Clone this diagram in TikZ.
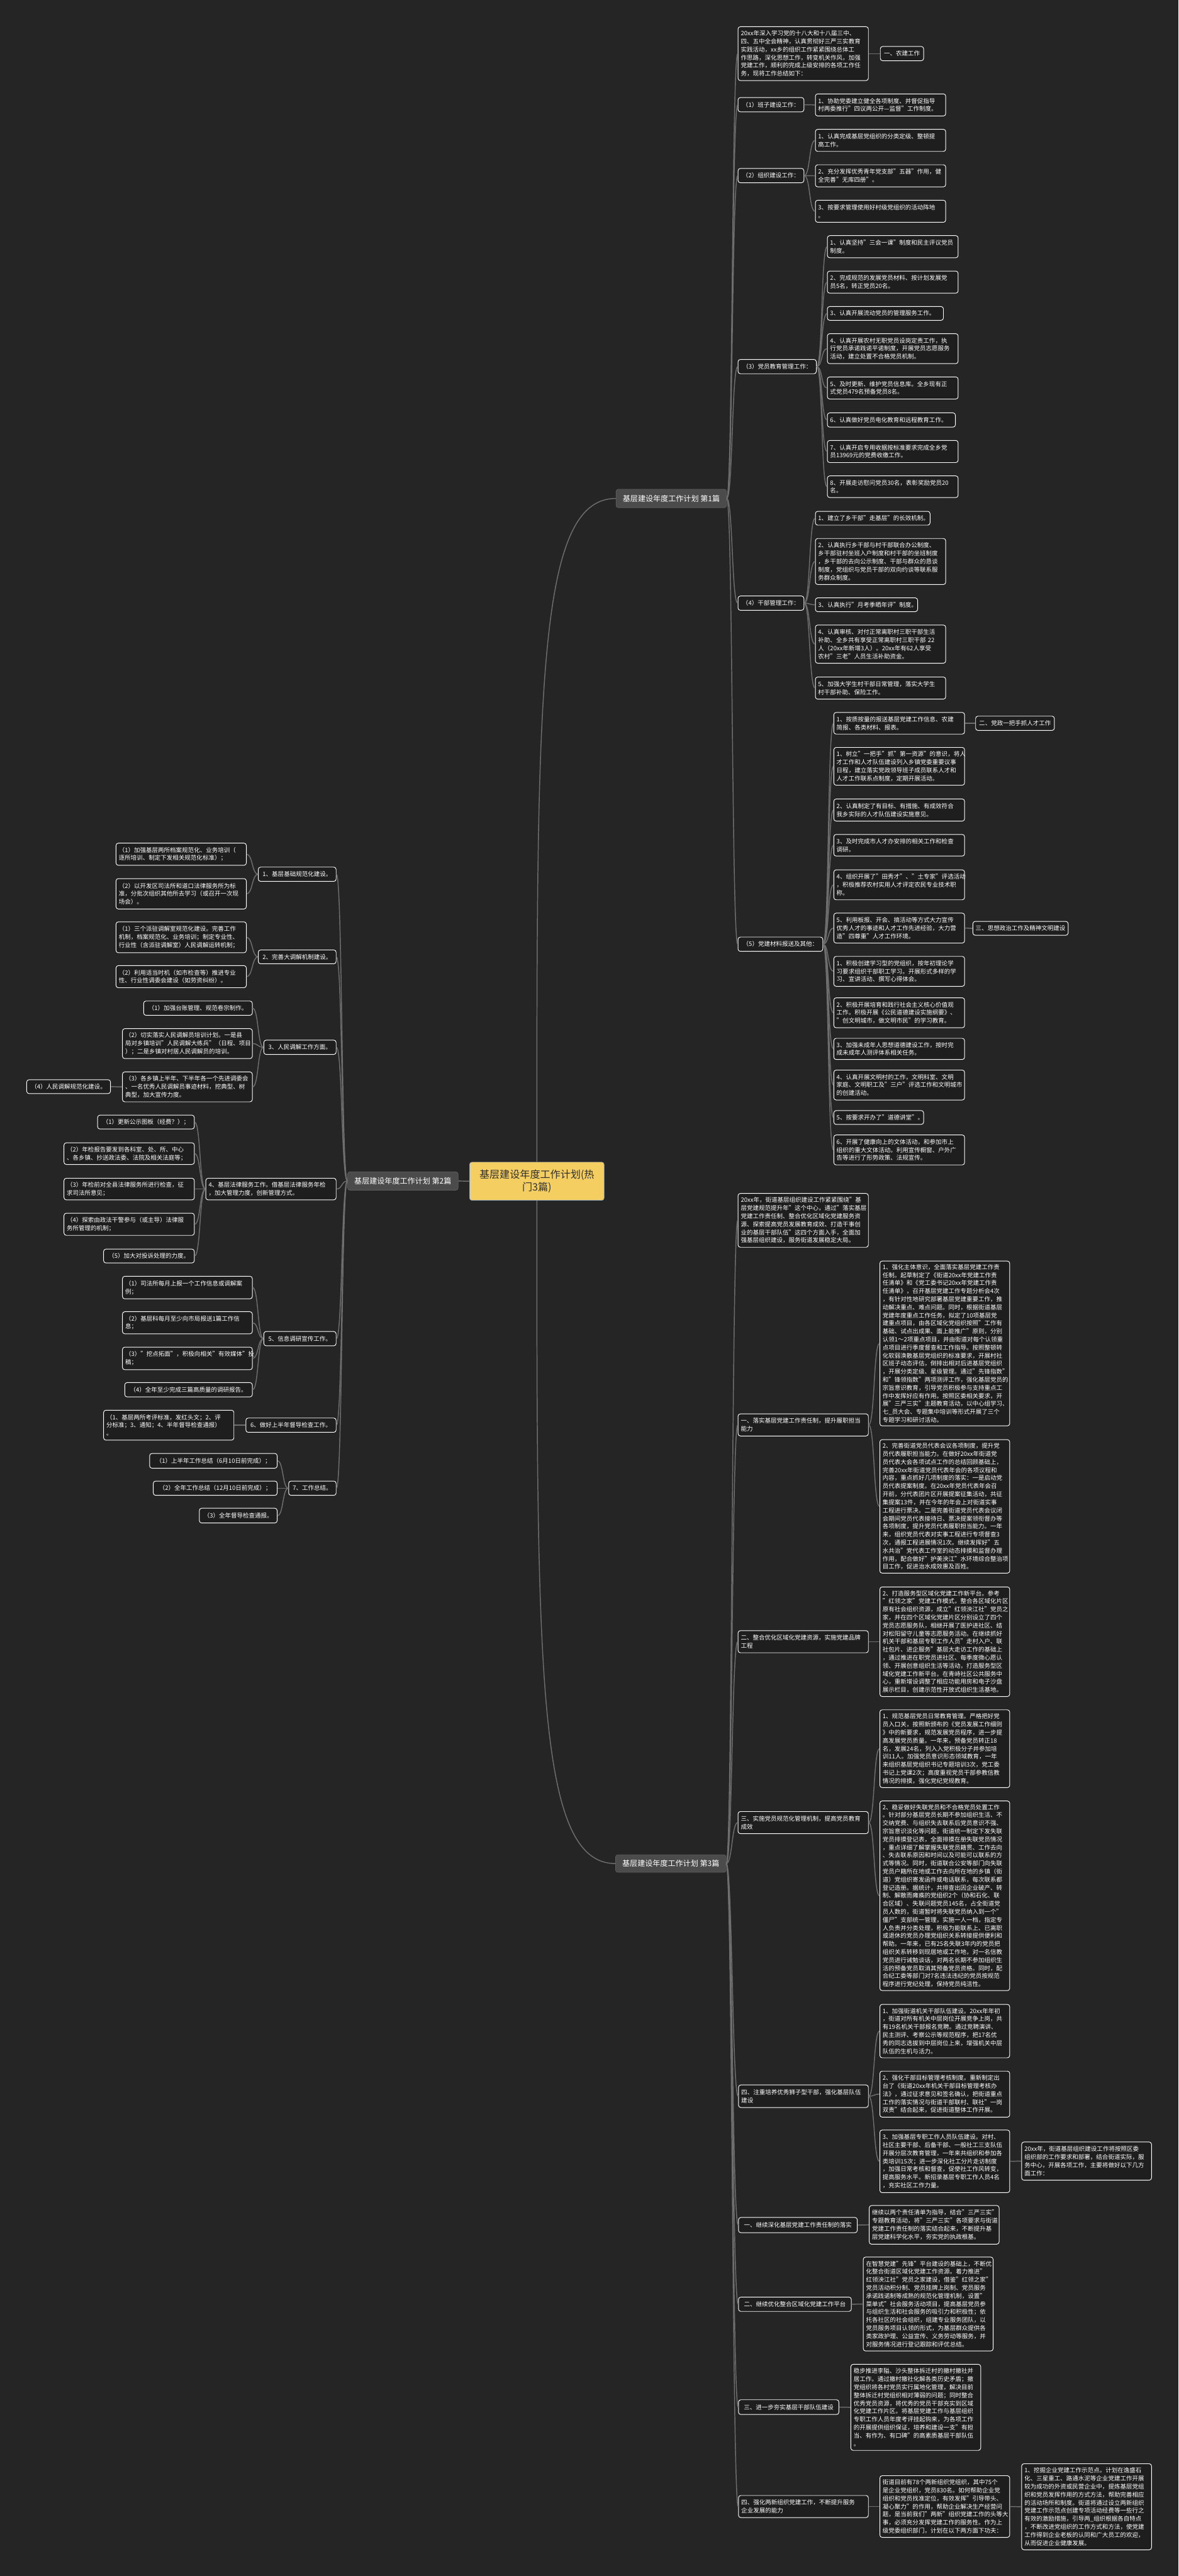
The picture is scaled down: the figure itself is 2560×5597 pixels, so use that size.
\documentclass[tikz,border=0pt]{standalone}
\usepackage{fontspec}
\setmainfont{Noto Sans CJK SC}
\definecolor{bg}{HTML}{252525}
\definecolor{nfill}{HTML}{1E1E1E}
\definecolor{lgray}{HTML}{6E6E6E}
\definecolor{bfill}{HTML}{4B4B4B}
\definecolor{bline}{HTML}{5E5E5E}
\definecolor{rootfill}{HTML}{F5CE62}
\definecolor{roottext}{HTML}{303030}
\definecolor{rootline}{HTML}{9AA7B5}
\tikzset{
 box/.style={draw=white, line width=1.3pt, fill=nfill, rounded corners=5pt, text=white,
   font=\fontsize{13}{17.5}\selectfont, align=left, inner xsep=6pt, inner ysep=5pt, anchor=center},
 sbox/.style={box, align=center},
 branch/.style={draw=bline, line width=1pt, fill=bfill, rounded corners=5pt, text=white,
   font=\fontsize{16.5}{20}\selectfont, inner sep=4pt, anchor=center},
 rootbox/.style={draw=rootline, line width=1pt, fill=rootfill, rounded corners=5pt, text=roottext,
   font=\fontsize{22}{28}\selectfont, align=center, anchor=center},
 conn/.style={draw=lgray, line width=2pt},
}
\newcommand\ndm[6]{%
 \pgfmathsetmacro\ndw{#4-#2}\pgfmathsetmacro\ndh{#5-#3}\pgfmathsetmacro\ndt{#4-#2-12}%
 \pgfmathsetmacro\ndx{(#2+#4)/2}\pgfmathsetmacro\ndy{(#3+#5)/2}%
 \node[box,minimum width=\ndw pt,minimum height=\ndh pt,text width=\ndt pt] (#1) at (\ndx,\ndy) {#6};}
\newcommand\nsm[6]{%
 \pgfmathsetmacro\ndw{#4-#2}\pgfmathsetmacro\ndh{#5-#3}%
 \pgfmathsetmacro\ndx{(#2+#4)/2}\pgfmathsetmacro\ndy{(#3+#5)/2}%
 \node[sbox,minimum width=\ndw pt,minimum height=\ndh pt] (#1) at (\ndx,\ndy) {#6};}
\newcommand\lkR[2]{\foreach \kk in {#2}{\draw[conn] (#1.east) .. controls +(13,0) and +(-13,0) .. (\kk.west);}}
\newcommand\lkL[2]{\foreach \kk in {#2}{\draw[conn] (#1.west) .. controls +(-13,0) and +(13,0) .. (\kk.east);}}
\begin{document}
\begin{tikzpicture}[x=1pt,y=-1pt]
\fill[bg] (0,0) rectangle (2560,5597);
\useasboundingbox (0,0) rectangle (2560,5597);

% root and branches
\node[rootbox,minimum width=292pt,minimum height=83pt,text width=276pt] (rt) at (1166,2566.5) {基层建设年度工作计划(热\\门3篇)};
\node[branch,minimum width=240pt,minimum height=40pt] (b1) at (1458,1083) {基层建设年度工作计划 第1篇};
\node[branch,minimum width=240pt,minimum height=40pt] (b2) at (875,2566) {基层建设年度工作计划 第2篇};
\node[branch,minimum width=240pt,minimum height=38pt] (b3) at (1457,4049) {基层建设年度工作计划 第3篇};

% ---------- part 1 ----------
\ndm{a0}{1603}{58}{1886}{175}{20xx年深入学习党的十八大和十八届三中、\\四、五中全会精神，认真贯彻好三严三实教育\\实践活动，xx乡的组织工作紧紧围绕总体工\\作思路，深化思想工作，转变机关作风，加强\\党建工作，顺利的完成上级安排的各项工作任\\务，现将工作总结如下：}
\nsm{a0x}{1912}{101}{2006}{132}{一、农建工作}
\nsm{a1}{1603}{212}{1746}{243}{（1）班子建设工作：}
\ndm{a11}{1771}{204}{2054}{252}{1、协助党委建立健全各项制度、并督促指导\\村两委推行"四议两公开—监督"工作制度。}
\nsm{a2}{1603}{366}{1746}{397}{（2）组织建设工作：}
\ndm{a21}{1771}{281}{2054}{329}{1、认真完成基层党组织的分类定级、整顿提\\高工作。}
\ndm{a22}{1771}{358}{2054}{406}{2、充分发挥优秀青年党支部"五器"作用，健\\全完善"无库四册"。}
\ndm{a23}{1771}{435}{2054}{483}{3、按要求管理使用好村级党组织的活动阵地\\。}
\nsm{a3}{1603}{781}{1773}{812}{（3）党员教育管理工作：}
\ndm{a31}{1797}{512}{2081}{560}{1、认真坚持"三会一课"制度和民主评议党员\\制度。}
\ndm{a32}{1797}{589}{2081}{637}{2、完成规范的发展党员材料、按计划发展党\\员5名，转正党员20名。}
\ndm{a33}{1797}{666}{2049}{696}{3、认真开展流动党员的管理服务工作。}
\ndm{a34}{1797}{725}{2081}{790}{4、认真开展农村无职党员设岗定责工作，执\\行党员承诺践诺平诺制度，开展党员志愿服务\\活动，建立处置不合格党员机制。}
\ndm{a35}{1797}{819}{2081}{867}{5、及时更新、维护党员信息库。全乡现有正\\式党员479名预备党员8名。}
\ndm{a36}{1797}{897}{2075}{928}{6、认真做好党员电化教育和远程教育工作。}
\ndm{a37}{1797}{957}{2081}{1005}{7、认真开启专用收据按标准要求完成全乡党\\员13969元的党费收缴工作。}
\ndm{a38}{1797}{1034}{2081}{1081}{8、开展走访慰问党员30名，表彰奖励党员20\\名。}
\nsm{a4}{1603}{1295}{1746}{1326}{（4）干部管理工作：}
\ndm{a41}{1771}{1111}{2020}{1141}{1、建立了乡干部"走基层"的长效机制。}
\ndm{a42}{1771}{1170}{2054}{1270}{2、认真执行乡干部与村干部联合办公制度、\\乡干部驻村坐班入户制度和村干部的坐班制度\\，乡干部的去向公示制度、干部与群众的恳谈\\制度，党组织与党员干部的双向约谈等联系服\\务群众制度。}
\ndm{a43}{1771}{1299}{1993}{1329}{3、认真执行"月考季晒年评"制度。}
\ndm{a44}{1771}{1358}{2054}{1441}{4、认真审核、对付正常离职村三职干部生活\\补助、全乡共有享受正常离职村三职干部 22\\人（20xx年新增3人）。20xx年有62人享受\\农村"三老"人员生活补助资金。}
\ndm{a45}{1771}{1471}{2054}{1519}{5、加强大学生村干部日常管理，落实大学生\\村干部补助、保险工作。}
\nsm{a5}{1603}{2036}{1787}{2067}{（5）党建材料报送及其他：}
\ndm{a51}{1811}{1548}{2095}{1595}{1、按质按量的报送基层党建工作信息、农建\\简报、各类材料、报表。}
\nsm{a51x}{2119}{1556}{2290}{1587}{二、党政一把手抓人才工作}
\ndm{a52}{1811}{1624}{2095}{1706}{1、树立"一把手"抓"第一资源"的意识，将人\\才工作和人才队伍建设列入乡镇党委重要议事\\日程，建立落实党政领导班子成员联系人才和\\人才工作联系点制度，定期开展活动。}
\ndm{a53}{1811}{1736}{2095}{1784}{2、认真制定了有目标、有措施、有成效符合\\我乡实际的人才队伍建设实施意见。}
\ndm{a54}{1811}{1813}{2095}{1860}{3、及时完成市人才办安排的相关工作和检查\\调研。}
\ndm{a55}{1811}{1890}{2095}{1955}{4、组织开展了"田秀才"、"土专家"评选活动\\，积极推荐农村实用人才评定农民专业技术职\\称。}
\ndm{a56}{1811}{1984}{2095}{2049}{5、利用板报、开会、搞活动等方式大力宣传\\优秀人才的事迹和人才工作先进经验，大力营\\造"四尊重"人才工作环境。}
\nsm{a56x}{2117}{2002}{2316}{2032}{三、思想政治工作及精神文明建设}
\ndm{a57}{1811}{2078}{2095}{2143}{1、积极创建学习型的党组织，按年初理论学\\习要求组织干部职工学习。开展形式多样的学\\习、宣讲活动、撰写心得体会。}
\ndm{a58}{1811}{2168}{2095}{2233}{2、积极开展培育和践行社会主义核心价值观\\工作。积极开展《公民道德建设实施纲要》、\\"创文明城市，做文明市民"的学习教育。}
\ndm{a59}{1811}{2256}{2095}{2302}{3、加强未成年人思想道德建设工作，按时完\\成未成年人测评体系相关任务。}
\ndm{a5a}{1811}{2325}{2095}{2390}{4、认真开展文明村的工作，文明科室、文明\\家庭、文明职工及"三户"评选工作和文明城市\\的创建活动。}
\ndm{a5b}{1811}{2413}{2006}{2443}{5、按要求开办了"道德讲堂"。}
\ndm{a5c}{1811}{2466}{2095}{2531}{6、开展了健康向上的文体活动，和参加市上\\组织的重大文体活动。利用宣传橱窗、户外广\\告等进行了形势政策、法规宣传。}

% ---------- part 2 ----------
\nsm{c1}{561}{1884}{730}{1915}{1、基层基础规范化建设。}
\ndm{c11}{252}{1832}{535}{1880}{（1）加强基层两所档案规范化、业务培训（\\逐所培训、制定下发相关规范化标准）；}
\ndm{c12}{252}{1909}{535}{1975}{（2）以开发区司法所和道口法律服务所为标\\准，分批次组织其他所去学习（或召开一次现\\场会）。}
\nsm{c2}{561}{2064}{730}{2094}{2、完善大调解机制建设。}
\ndm{c21}{252}{2003}{535}{2070}{（1）三个派驻调解室规范化建设。完善工作\\机制，档案规范化、业务培训；制定专业性、\\行业性（含派驻调解室）人民调解运转机制；}
\ndm{c22}{252}{2098}{535}{2146}{（2）利用适当时机（如市检查等）推进专业\\性、行业性调委会建设（如劳资纠纷）。}
\nsm{c3}{573}{2260}{730}{2291}{3、人民调解工作方面。}
\nsm{c31}{312}{2175}{548}{2206}{（1）加强台账管理、规范卷宗制作。}
\ndm{c32}{266}{2235}{548}{2300}{（2）切实落实人民调解员培训计划。一是县\\局对乡镇培训"人民调解大练兵"（日程、项目\\）；二是乡镇对村居人民调解员的培训。}
\ndm{c33}{266}{2329}{548}{2394}{（3）各乡镇上半年、下半年各一个先进调委会\\、一名优秀人民调解员事迹材料，挖典型、树\\典型，加大宣传力度。}
\nsm{c33x}{58}{2346}{240}{2376}{（4）人民调解规范化建设。}
\ndm{c4}{447}{2560}{730}{2607}{4、基层法律服务工作。借基层法律服务年检\\，加大管理力度，创新管理方式。}
\nsm{c41}{212}{2423}{422}{2453}{（1）更新公示图板（经费？）；}
\ndm{c42}{139}{2483}{422}{2530}{（2）年检报告要发到各科室、处、所、中心\\、各乡镇、抄送政法委、法院及相关法庭等；}
\ndm{c43}{139}{2560}{422}{2607}{（3）年检前对全县法律服务所进行检查，征\\求司法所意见；}
\ndm{c44}{139}{2636}{422}{2684}{（4）探索由政法干警参与（或主导）法律服\\务所管理的机制；}
\nsm{c45}{225}{2714}{422}{2744}{（5）加大对投诉处理的力度。}
\nsm{c5}{573}{2893}{730}{2924}{5、信息调研宣传工作。}
\ndm{c51}{266}{2773}{548}{2822}{（1）司法所每月上报一个工作信息或调解案\\例；}
\ndm{c52}{266}{2850}{548}{2898}{（2）基层科每月至少向市局报送1篇工作信\\息；}
\ndm{c53}{266}{2927}{548}{2976}{（3）"挖点拓面"，积极向相关"有效媒体"投\\稿；}
\nsm{c54}{271}{3004}{548}{3035}{（4）全年至少完成三篇高质量的调研报告。}
\nsm{c6}{534}{3081}{730}{3112}{6、做好上半年督导检查工作。}
\ndm{c61}{225}{3064}{508}{3129}{（1、基层两所考评标准，发红头文；2、评\\分标准；3、通知；4、半年督导检查通报）\\。}
\nsm{c7}{627}{3218}{730}{3249}{7、工作总结。}
\nsm{c71}{325}{3158}{602}{3190}{（1）上半年工作总结（6月10日前完成）；}
\nsm{c72}{333}{3218}{602}{3249}{（2）全年工作总结（12月10日前完成）；}
\nsm{c73}{433}{3277}{602}{3309}{（3）全年督导检查通报。}

% ---------- part 3 ----------
\ndm{d0}{1603}{2593}{1886}{2710}{20xx年，街道基层组织建设工作紧紧围绕"基\\层党建规范提升年"这个中心，通过"落实基层\\党建工作责任制、整合优化区域化党建服务资\\源、探索提高党员发展教育成效、打造干事创\\业的基层干部队伍"这四个方面入手，全面加\\强基层组织建设，服务街道发展稳定大局。}
\ndm{d1}{1603}{3072}{1886}{3120}{一、落实基层党建工作责任制，提升履职担当\\能力}
\ndm{d11}{1911}{2740}{2193}{3098}{1、强化主体意识，全面落实基层党建工作责\\任制。起草制定了《街道20xx年党建工作责\\任清单》和《党工委书记20xx年党建工作责\\任清单》，召开基层党建工作专题分析会4次\\，有针对性地研究部署基层党建重要工作，推\\动解决重点、难点问题。同时，根据街道基层\\党建年度重点工作任务，拟定了10项基层党\\建重点项目，由各区域化党组织按照"工作有\\基础、试点出成果、面上能推广"原则，分别\\认领1～2项重点项目，并由街道对每个认领重\\点项目进行季度督查和工作指导。按照整顿转\\化软弱涣散基层党组织的标准要求，开展村社\\区班子动态评估，倒排出相对后进基层党组织\\，开展分类定级、星级管理。通过"先锋指数"\\和"锋领指数"两项测评工作，强化基层党员的\\宗旨意识教育，引导党员积极参与支持重点工\\作中发挥好应有作用。按照区委相关要求，开\\展"三严三实"主题教育活动，以中心组学习、\\七\_员大会、专题集中培训等形式开展了三个\\专题学习和研讨活动。}
\ndm{d12}{1911}{3128}{2193}{3418}{2、完善街道党员代表会议各项制度，提升党\\员代表履职担当能力。在做好20xx年街道党\\员代表大会各项试点工作的总结回顾基础上，\\完善20xx年街道党员代表年会的各项议程和\\内容，重点抓好几项制度的落实：一是启动党\\员代表提案制度。在20xx年党员代表年会召\\开前，分代表团片区开展提案征集活动，共征\\集提案13件，并在今年的年会上对街道实事\\工程进行票决。二是完善街道党员代表会议闭\\会期间党员代表接待日、票决提案领衔督办等\\各项制度，提升党员代表履职担当能力。一年\\来，组织党员代表对实事工程进行专项督查3\\次，通报工程进展情况1次。继续发挥好"五\\水共治"党代表工作室的动态排摸和监督办理\\作用，配合做好"护美泱江"水环境综合整治项\\目工作，促进治水成效惠及百姓。}
\ndm{d2}{1603}{3543}{1886}{3591}{二、整合优化区域化党建资源，实施党建品牌\\工程}
\ndm{d21}{1911}{3448}{2193}{3686}{2、打造服务型区域化党建工作新平台。参考\\"红领之家"党建工作模式，整合各区域化片区\\原有社会组织资源，成立"红领泱江社"党员之\\家，并在四个区域化党建片区分别设立了四个\\党员志愿服务队，相继开展了医护进社区、结\\对松阳留守儿童等志愿服务活动。在继续抓好\\机关干部和基层专职工作人员"走村入户、联\\社包片、进企服务"基层大走访工作的基础上\\，通过推进在职党员进社区、每季度微心愿认\\领、开展创意组织生活等活动，打造服务型区\\域化党建工作新平台。在青峙社区公共服务中\\心，重新增设调整了相应功能用房和电子沙盘\\展示栏目，创建示范性开放式组织生活基地。}
\ndm{d3}{1603}{3936}{1886}{3984}{三、实施党员规范化管理机制，提高党员教育\\成效}
\ndm{d31}{1911}{3715}{2193}{3884}{1、规范基层党员日常教育管理。严格把好党\\员入口关，按照新颁布的《党员发展工作细则\\》中的新要求，规范发展党员程序，进一步提\\高发展党员质量。一年来，预备党员转正18\\名，发展24名，列入入党积极分子并参加培\\训11人。加强党员意识形态领域教育，一年\\来组织基层党组织书记专题培训3次，党工委\\书记上党课2次；高度重视党员干部参教信教\\情况的排摸，强化党纪党规教育。}
\ndm{d32}{1911}{3913}{2193}{4325}{2、稳妥做好失联党员和不合格党员处置工作\\。针对部分基层党员长期不参加组织生活、不\\交纳党费、与组织失去联系后党员意识不强、\\宗旨意识淡化等问题，街道统一制定下发失联\\党员排摸登记表，全面排摸在册失联党员情况\\，重点详细了解掌握失联党员籍贯、工作去向\\、失去联系原因和时间以及可能可以联系的方\\式等情况。同时，街道联合公安等部门向失联\\党员户籍所在地或工作去向所在地的乡镇（街\\道）党组织寄发函件或电话联系，每次联系都\\登记造册。据统计，共排查出因企业破产、转\\制、解散而瘫痪的党组织2个（协和石化、联\\合区域）、失联问题党员145名，占全街道党\\员人数的，街道暂时将失联党员纳入到一个"\\僵尸"支部统一管理，实施一人一档，指定专\\人负责并分类处理，积极为能联系上、已离职\\或退休的党员办理党组织关系转接提供便利和\\帮助。一年来，已有25名失联3年内的党员把\\组织关系转移到现居地或工作地，对一名信教\\党员进行诫勉谈话，对两名长期不参加组织生\\活的预备党员取消其预备党员资格。同时，配\\合纪工委等部门对7名违法违纪的党员按规范\\程序进行党纪处理，保持党员纯洁性。}
\ndm{d4}{1604}{4530}{1886}{4579}{四、注重培养优秀狮子型干部，强化基层队伍\\建设}
\ndm{d41}{1911}{4355}{2193}{4471}{1、加强街道机关干部队伍建设。20xx年年初\\，街道对所有机关中层岗位开展竞争上岗，共\\有19名机关干部报名竞聘。通过竞聘演讲、\\民主测评、考察公示等规范程序，把17名优\\秀的同志选拔到中层岗位上来，增强机关中层\\队伍的生机与活力。}
\ndm{d42}{1911}{4500}{2193}{4600}{2、强化干部目标管理考核制度。重新制定出\\台了《街道20xx年机关干部目标管理考核办\\法》，通过征求意见和签名确认，把街道重点\\工作的落实情况与街道干部联村、联社"一岗\\双责"结合起来，促进街道整体工作开展。}
\ndm{d43}{1911}{4628}{2193}{4764}{3、加强基层专职工作人员队伍建设。对村、\\社区主要干部、后备干部、一般社工三支队伍\\开展分层次教育管理，一年来共组织和参加各\\类培训15次；进一步深化社工分片走访制度\\，加强日常考核和督查，促使社工作风转变，\\提高服务水平。新招录基层专职工作人员4名\\，充实社区工作力量。}
\ndm{d43x}{2219}{4654}{2501}{4737}{20xx年，街道基层组织建设工作将按照区委\\组织部的工作要求和部署，结合街道实际，服\\务中心，开展各项工作，主要将做好以下几方\\面工作：}
\nsm{d5}{1604}{4818}{1862}{4851}{一、继续深化基层党建工作责任制的落实}
\ndm{d51}{1888}{4792}{2170}{4876}{继续以两个责任清单为指导，结合"三严三实"\\专题教育活动，将"三严三实"各项要求与街道\\党建工作责任制的落实结合起来，不断提升基\\层党建科学化水平，夯实党的执政根基。}
\nsm{d6}{1604}{4991}{1849}{5022}{二、继续优化整合区域化党建工作平台}
\ndm{d61}{1875}{4904}{2157}{5108}{在智慧党建"先锋"平台建设的基础上，不断优\\化整合街道区域化党建工作资源。着力推进"\\红领泱江社"党员之家建设，借鉴"红领之家"\\党员活动积分制、党员挂牌上岗制、党员服务\\承诺践诺制等成熟的规范化管理机制，设置"\\菜单式"社会服务活动项目，提高基层党员参\\与组织生活和社会服务的吸引力和积极性；依\\托各社区的社会组织，组建专业服务团队，以\\党员服务项目认领的形式，为基层群众提供各\\类家政护理、公益宣传、义务劳动等服务，并\\对服务情况进行登记跟踪和评优总结。}
\nsm{d7}{1604}{5214}{1822}{5246}{三、进一步夯实基层干部队伍建设}
\ndm{d71}{1848}{5137}{2130}{5324}{稳步推进李隘、沙头整体拆迁村的撤村撤社并\\居工作。通过撤村撤社化解各类历史矛盾；撤\\党组织将各村党员实行属地化管理，解决目前\\整体拆迁村党组织相对薄弱的问题；同时整合\\优秀党员资源，将优秀的党员干部充实到区域\\化党建工作片区。将基层党建工作与基层组织\\专职工作人员年度考评挂起钩来，为各项工作\\的开展提供组织保证，培养和建设一支"有担\\当、有作为、有口碑"的高素质基层干部队伍\\。}
\ndm{d8}{1604}{5422}{1886}{5470}{四、强化两新组织党建工作，不断提升服务\\企业发展的能力}
\ndm{d81}{1911}{5379}{2193}{5513}{街道目前有78个两新组织党组织，其中75个\\是企业党组织，党员830名。如何帮助企业党\\组织和党员找准定位，有效发挥"引导带头、\\凝心聚力"的作用，帮助企业解决生产经营问\\题，是当前我们"两新"组织党建工作的头等大\\事，必须充分发挥党建工作的服务性。作为上\\级党委组织部门，计划在以下两方面下功夫：}
\ndm{d81x}{2219}{5353}{2501}{5540}{1、挖掘企业党建工作示范点。计划在逸盛石\\化、三星重工、路通水泥等企业党建工作开展\\较为成功的外资或民营企业中，提炼基层党组\\织和党员发挥作用的方式方法，帮助完善相应\\的活动场所和制度。街道将通过设立两新组织\\党建工作示范点创建专项活动经费等一些行之\\有效的激励措施，引导两\_组织根据各自特点\\，不断改进党组织的工作方式和方法，使党建\\工作得到企业老板的认同和广大员工的欢迎，\\从而促进企业健康发展。}

% ---------- connectors ----------
\draw[conn] (rt.north) .. controls (1166,1500) and (1166,1083) .. (b1.west);
\draw[conn] (rt.south) .. controls (1166,3630) and (1166,4049) .. (b3.west);
\draw[conn] (rt.west) -- (b2.east);

\lkR{b1}{a0,a1,a2,a3,a4,a5}
\lkR{a0}{a0x}
\lkR{a1}{a11}
\lkR{a2}{a21,a22,a23}
\lkR{a3}{a31,a32,a33,a34,a35,a36,a37,a38}
\lkR{a4}{a41,a42,a43,a44,a45}
\lkR{a5}{a51,a52,a53,a54,a55,a56,a57,a58,a59,a5a,a5b,a5c}
\lkR{a51}{a51x}
\lkR{a56}{a56x}

\lkL{b2}{c1,c2,c3,c4,c5,c6,c7}
\lkL{c1}{c11,c12}
\lkL{c2}{c21,c22}
\lkL{c3}{c31,c32,c33}
\lkL{c33}{c33x}
\lkL{c4}{c41,c42,c43,c44,c45}
\lkL{c5}{c51,c52,c53,c54}
\lkL{c6}{c61}
\lkL{c7}{c71,c72,c73}

\lkR{b3}{d0,d1,d2,d3,d4,d5,d6,d7,d8}
\lkR{d1}{d11,d12}
\lkR{d2}{d21}
\lkR{d3}{d31,d32}
\lkR{d4}{d41,d42,d43}
\lkR{d43}{d43x}
\lkR{d5}{d51}
\lkR{d6}{d61}
\lkR{d7}{d71}
\lkR{d8}{d81}
\lkR{d81}{d81x}
\end{tikzpicture}
\end{document}
